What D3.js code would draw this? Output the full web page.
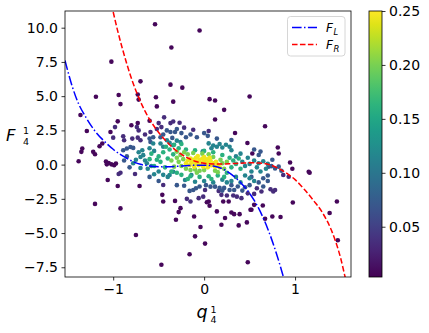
<!DOCTYPE html>
<html>
<head>
<meta charset="utf-8">
<script src="https://cdn.jsdelivr.net/npm/d3@7"></script>
<style>
  body { margin: 0; background: #fff; }
  svg text { font-family: "DejaVu Sans", sans-serif; fill: #000; }
</style>
</head>
<body>
<svg id="chart" width="429" height="333"></svg>
<script>
// axis ticks
var xTicks = [-1, 0, 1];
var yTicks = [-7.5, -5, -2.5, 0, 2.5, 5, 7.5, 10];
var cTicks = [0.05, 0.10, 0.15, 0.20, 0.25];

// curves, [q, F]
var fLeft = [[-1.53, 7.6], [-1.45, 5.7], [-1.4, 4.75], [-1.3, 3.45], [-1.2, 2.45], [-1.1, 1.72],
  [-1.0, 1.12], [-0.9, 0.65], [-0.8, 0.28], [-0.7, 0.02], [-0.6, -0.1], [-0.5, -0.15], [-0.4, -0.15],
  [-0.3, -0.12], [-0.2, -0.08], [-0.1, -0.05], [0.0, -0.05], [0.1, -0.1], [0.2, -0.3], [0.3, -0.72],
  [0.4, -1.3], [0.5, -2.1], [0.6, -3.2], [0.7, -4.7], [0.8, -6.6], [0.88, -8.4]];
var fRight = [[-1.0, 11.15], [-0.95, 9.75], [-0.9, 8.5], [-0.85, 7.35], [-0.8, 6.3], [-0.75, 5.4],
  [-0.7, 4.6], [-0.65, 3.9], [-0.6, 3.3], [-0.55, 2.8], [-0.5, 2.35], [-0.45, 1.95], [-0.4, 1.6],
  [-0.34, 1.2], [-0.26, 0.8], [-0.18, 0.48], [-0.1, 0.25], [0.0, 0.1], [0.1, 0.05], [0.2, 0.05],
  [0.3, 0.07], [0.4, 0.1], [0.5, 0.13], [0.6, 0.12], [0.7, 0.03], [0.8, -0.22], [0.9, -0.6], [1.0, -1.1],
  [1.1, -1.8], [1.2, -2.6], [1.3, -3.5], [1.4, -4.8], [1.45, -5.7], [1.5, -6.8], [1.55, -8.2], [1.58, -9.0]];

// scatter points [q, F], grouped by colour
var ptsOuter = [[-0.54, 10.25], [-0.05, 9.8], [-0.36, 8.55], [-1.02, 7.52], [-0.70, 6.08], [-0.37, 5.84],
  [-0.24, 5.62], [-1.19, 4.96], [-0.94, 5.08], [-0.73, 5.12], [-0.72, 4.75], [-0.53, 4.92], [-0.92, 4.42],
  [-0.34, 4.6], [-0.52, 4.25], [0.06, 4.78], [0.12, 4.68], [0.5, 4.97], [0.22, 4.0], [0.12, 3.3], [0.67, 2.8],
  [-1.36, 3.62], [-1.29, 2.45], [-0.95, 3.16], [-1.38, 0.25], [-1.06, -1.12], [-0.95, -1.56], [-0.71, -1.56],
  [-1.2, -2.87], [-0.92, -3.2], [-0.46, -2.21], [-0.45, -2.7], [-0.32, -2.65], [-0.26, -3.18], [-0.28, -3.47],
  [-0.31, -4.03], [-0.75, -5.14], [-0.47, -7.32], [-0.16, -6.55], [-0.04, -4.56], [-0.10, -5.24], [0.01, -5.77],
  [-0.11, -3.79], [0.14, -3.42], [0.19, -4.39], [0.23, -3.9], [0.38, -4.44], [0.47, -4.22], [0.51, -3.3],
  [0.55, -2.94], [0.645, -2.99], [0.67, -3.96], [0.75, -3.79], [0.84, -3.83], [0.975, -2.77], [1.46, -2.7],
  [1.38, -3.54], [1.47, -5.53], [0.48, -7.13], [1.15, -0.52], [1.16, -0.6], [0.81, 1.25], [0.82, 0.81],
  [0.945, 0.15], [0.97, -0.3], [0.34, 2.31], [0.476, 1.58], [-0.80, 2.87], [-0.73, 3.03], [-0.60, 3.2],
  [-1.34, 1.18], [-1.35, 0.93], [-1.03, 2.38], [-1.22, 0.93], [-1.2, 0.76], [-1.15, 1.34], [-1.12, 1.54],
  [-1.08, 0.22], [-1.05, 0.12], [-1.02, 0.02], [-1.07, 0.02], [-0.99, -0.04], [-0.97, 0.08],
  [0.05, -2.7], [0.06, -3.01], [0.03, -2.75], [0.30, -3.5], [0.33, -3.62], [0.39, -3.62], [0.21, -2.7],
  [0.27, -2.7], [0.52, -3.3], [0.53, 0.81]];
var ptsDark = [[-0.89, 2.07], [-0.88, 1.78], [-1.0, 1.97], [-0.74, 2.74], [-0.72, 2.5], [-0.50, 3.03],
  [-0.47, 2.74], [-0.37, 3.03], [-0.27, 3.06], [-0.59, 2.38], [-0.44, 3.45], [-0.34, 3.15], [-0.76, -0.69],
  [-0.94, -0.69], [-0.92, -0.6], [-0.45, -1.49], [-0.19, -2.5], [-0.15, -2.7], [-0.01, -2.34], [0.01, -1.85],
  [-0.06, -2.45], [0.25, -2.26], [0.32, -2.26], [0.36, -2.34], [0.41, -2.45], [0.19, -2.21], [0.16, -1.92],
  [0.73, -1.8], [0.76, -1.97], [0.87, -0.76], [0.93, -0.89], [0.55, -2.14], [0.58, -1.73], [0.63, -1.97],
  [0.78, -1.85], [-0.79, 1.9], [-0.73, 1.97], [-0.70, 1.78], [-0.98, 2.74], [-0.52, 2.6], [-0.22, 2.7],
  [-0.12, 2.55], [-0.65, 2.2], [0.48, -2.1], [0.05, 2.45]];
var ptsBlue = [[-0.89, 1.05], [-0.85, 1.18], [-0.81, 1.29], [-0.78, 1.22], [-0.59, 1.65], [-0.56, 2.0],
  [-0.41, 2.5], [-0.37, 2.38], [-0.32, 2.38], [-0.48, 2.0], [-0.2, 2.0], [-0.15, 2.2], [0.14, 1.9], [0.04, 2.1],
  [-0.16, -1.92], [-0.12, -1.85], [-0.09, -1.73], [0.07, -1.61], [0.12, -1.61], [0.17, -1.7], [0.22, -1.7],
  [0.28, -1.85], [0.33, -1.85], [0.37, -1.6], [0.45, -1.65], [0.6, -1.3], [0.65, -1.0], [0.7, -0.8],
  [0.71, -0.16], [0.74, -0.11], [0.78, -0.28], [0.82, -0.15], [0.75, 0.35], [0.6, 0.7], [-0.85, 0.6],
  [-0.88, 0.3], [-0.82, -0.2], [-0.6, -0.9], [-0.5, -1.2], [-0.3, -1.5], [0.55, 1.1], [0.62, 0.95], [0.3, 1.8],
  [-0.45, 2.2], [-0.3, 2.6], [-0.25, 2.3], [-0.08, 2.0], [0.0, 2.3], [-0.6, 1.9], [-0.35, 1.95],
  [0.2, -1.9], [0.3, -1.5], [0.42, -1.9], [0.5, -1.5], [0.65, -1.6], [0.7, -1.2], [0.02, -1.5],
  [-0.05, -1.6], [0.52, -0.9], [0.85, -0.45], [-0.22, -1.55]];
var ptsTeal = [[-0.72, 0.9], [-0.7, 0.55], [-0.68, 1.05], [-0.67, 0.69], [-0.65, 0.3], [-0.63, 0.1],
  [-0.62, -0.3], [-0.6, 1.2], [-0.58, -0.1], [-0.56, 1.54], [-0.55, 1.0], [-0.5, -0.5], [-0.48, 1.54],
  [-0.45, 1.3], [-0.41, 1.78], [-0.38, 1.6], [-0.34, 1.42], [-0.3, 1.75], [-0.26, 1.65], [-0.45, -0.75],
  [-0.4, -0.9], [-0.7, -0.25], [-0.78, 0.1], [-0.75, 0.35], [-0.55, -0.7], [0.08, 1.2], [0.1, 1.4], [0.14, 1.3],
  [0.17, 1.5], [0.2, 1.25], [0.24, 1.45], [0.28, 1.3], [-0.015, 0.98], [0.05, 1.55], [0.3, 1.05], [0.35, 0.6],
  [0.4, 0.8], [0.42, 0.2], [0.45, -0.1], [0.48, 0.5], [0.5, 0.05], [0.52, -0.5], [0.55, 0.3], [0.58, -0.2],
  [0.6, 0.1], [0.62, -0.5], [0.65, 0.25], [0.68, -0.3], [0.7, 0.05], [0.45, -0.8], [0.5, -1.0], [0.35, -0.9],
  [0.3, -1.2], [0.4, -1.3], [0.55, -1.2], [0.25, -1.3], [0.2, -1.1], [-0.21, -1.12], [-0.14, -0.76],
  [-0.38, -0.76], [-0.34, -0.52], [0.0, -1.2], [0.1, -1.3], [-0.1, -1.25]];
var ptsGreen = [[-0.5, 0.6], [-0.48, 0.2], [-0.45, 0.9], [-0.43, -0.2], [-0.4, 0.45], [-0.38, 1.1],
  [-0.36, -0.5], [-0.34, 0.75], [-0.3, -0.6], [-0.28, 1.2], [-0.25, -0.75], [-0.2, 1.1], [-0.15, -0.85],
  [-0.1, 1.05], [-0.05, -0.9], [0.0, 1.0], [0.05, -0.85], [0.1, 0.9], [0.15, -0.8], [0.2, 0.7], [0.25, -0.6],
  [0.28, 0.5], [0.3, -0.2], [0.32, 0.3], [-0.55, -0.1], [-0.52, 0.35], [-0.42, 1.3], [-0.33, 1.45],
  [-0.25, 1.5], [0.35, 0.05], [0.22, -0.9], [0.38, 0.45], [-0.6, 0.4], [-0.18, -1.05], [0.08, -1.05],
  [-0.58, 0.8], [0.4, -0.3]];
var ptsLime = [[-0.3, 0.5], [-0.28, 0.2], [-0.26, 0.7], [-0.25, -0.1], [-0.23, 0.4], [-0.22, 0.9],
  [-0.2, -0.3], [-0.18, 0.75], [-0.15, -0.4], [-0.12, 0.85], [-0.1, -0.35], [-0.05, -0.45], [0.0, -0.4],
  [0.05, 0.75], [0.1, 0.55], [0.12, -0.45], [0.18, 0.35], [0.2, 0.1], [0.22, -0.3], [-0.33, -0.15],
  [-0.36, 0.3], [-0.02, 0.8], [0.15, -0.55], [0.25, 0.2], [-0.3, 0.95], [-0.08, -0.6]];
var ptsYellow = [[-0.18, 0.3], [-0.15, 0.45], [-0.14, 0.15], [-0.12, 0.35], [-0.1, 0.05], [-0.09, 0.5],
  [-0.08, 0.2], [-0.06, -0.05], [-0.05, 0.35], [-0.04, 0.12], [-0.02, 0.45], [-0.01, -0.15], [0.0, 0.25],
  [0.02, 0.05], [0.03, 0.38], [0.04, -0.2], [0.05, 0.15], [0.07, 0.3], [0.08, -0.05], [0.1, 0.1],
  [0.12, -0.15], [0.13, 0.2], [0.15, 0.0], [-0.2, 0.1], [-0.16, -0.05], [-0.11, -0.15], [0.0, 0.55],
  [0.06, 0.5], [-0.07, 0.62], [0.17, -0.2]];

// colour value of each group
var groups = [
  [0.008, ptsOuter],
  [0.035, ptsDark],
  [0.07, ptsBlue],
  [0.115, ptsTeal],
  [0.16, ptsGreen],
  [0.2, ptsLime],
  [0.245, ptsYellow]
];

var svg = d3.select('#chart');
var pLeft = 65, pRight = 351, pTop = 11, pBottom = 277;

var x = d3.scaleLinear().domain([-1.53, 1.615]).range([pLeft, pRight]);
var y = d3.scaleLinear().domain([-8.21, 11.22]).range([pBottom, pTop]);
var cmin = 0.0034, cmax = 0.25;
var color = d3.scaleSequential(d3.interpolateViridis).domain([cmin, cmax]);

var defs = svg.append('defs');
defs.append('clipPath').attr('id', 'plotclip')
  .append('rect').attr('x', pLeft).attr('y', pTop).attr('width', pRight - pLeft).attr('height', pBottom - pTop);

var minus = function(s) { return s.replace('-', '\u2212'); };

// points
var dots = [];
groups.forEach(function(g) {
  g[1].forEach(function(p) { dots.push({ q: p[0], f: p[1], c: g[0] }); });
});
svg.append('g').attr('clip-path', 'url(#plotclip)')
  .selectAll('circle')
  .data(dots)
  .enter()
  .append('circle')
  .attr('cx', function(d) { return x(d.q); })
  .attr('cy', function(d) { return y(d.f); })
  .attr('r', 2.3)
  .attr('fill', function(d) { return color(d.c); });

// curves
var line = d3.line()
  .x(function(d) { return x(d[0]); })
  .y(function(d) { return y(d[1]); })
  .curve(d3.curveMonotoneX);

var curves = svg.append('g').attr('clip-path', 'url(#plotclip)');
curves.append('path').attr('d', line(fLeft))
  .attr('fill', 'none').attr('stroke', '#0000ff').attr('stroke-width', 1.5)
  .attr('stroke-dasharray', '9.6,2.4,1.5,2.4');
curves.append('path').attr('d', line(fRight))
  .attr('fill', 'none').attr('stroke', '#ff0000').attr('stroke-width', 1.5)
  .attr('stroke-dasharray', '5.55,2.4');

// axes
var xAxis = d3.axisBottom(x).tickValues(xTicks).tickSize(3.5).tickPadding(3.5)
  .tickFormat(function(d) { return minus(d3.format('d')(d)); });
var yAxis = d3.axisLeft(y).tickValues(yTicks).tickSize(3.5).tickPadding(3.5)
  .tickFormat(function(d) { return minus(d3.format('.1f')(d)); });

var gx = svg.append('g').attr('transform', 'translate(0,' + pBottom + ')').call(xAxis);
var gy = svg.append('g').attr('transform', 'translate(' + pLeft + ',0)').call(yAxis);
[gx, gy].forEach(function(g) {
  g.select('.domain').remove();
  g.selectAll('line').attr('stroke', '#000').attr('stroke-width', 0.8);
  g.selectAll('text').attr('font-family', 'DejaVu Sans').attr('font-size', 14).attr('fill', '#000');
});

svg.append('rect').attr('x', pLeft).attr('y', pTop).attr('width', pRight - pLeft).attr('height', pBottom - pTop)
  .attr('fill', 'none').attr('stroke', '#000').attr('stroke-width', 0.8);

// axis labels
var ylab = svg.append('g');
ylab.append('text').attr('x', 6).attr('y', 141).attr('font-size', 16.5).attr('font-style', 'italic').text('F');
ylab.append('text').attr('x', 23).attr('y', 134).attr('font-size', 9.5).text('1');
ylab.append('text').attr('x', 23).attr('y', 144.5).attr('font-size', 9.5).text('4');

var xlab = svg.append('g');
xlab.append('text').attr('x', 196.5).attr('y', 318).attr('font-size', 17.5).attr('font-style', 'italic').text('q');
xlab.append('text').attr('x', 210.5).attr('y', 312.5).attr('font-size', 9.5).text('1');
xlab.append('text').attr('x', 210.5).attr('y', 323).attr('font-size', 9.5).text('4');

// legend
var legendItems = [['L', '#0000ff', '9.6,2.4,1.5,2.4'], ['R', '#ff0000', '5.55,2.4']];
var lg = svg.append('g');
lg.append('rect').attr('x', 287.5).attr('y', 16.5).attr('width', 57.5).attr('height', 39.5).attr('rx', 3)
  .attr('fill', '#fff').attr('fill-opacity', 0.8).attr('stroke', '#cccccc').attr('stroke-width', 0.8);
legendItems.forEach(function(it, i) {
  var ly = 27.5 + i * 17;
  lg.append('line').attr('x1', 292).attr('x2', 317).attr('y1', ly).attr('y2', ly)
    .attr('stroke', it[1]).attr('stroke-width', 1.5).attr('stroke-dasharray', it[2]);
  lg.append('text').attr('x', 326).attr('y', ly + 4.5).attr('font-size', 12).attr('font-style', 'italic').text('F');
  lg.append('text').attr('x', 333.5).attr('y', ly + 7).attr('font-size', 8.5).attr('font-style', 'italic').text(it[0]);
});

// colorbar
var cbx = 369, cbw = 13;
var cy = d3.scaleLinear().domain([cmin, cmax]).range([pBottom, pTop]);
var grad = defs.append('linearGradient').attr('id', 'cbgrad')
  .attr('x1', 0).attr('y1', 1).attr('x2', 0).attr('y2', 0);
d3.range(0, 1.0001, 0.05).forEach(function(t) {
  grad.append('stop').attr('offset', t).attr('stop-color', d3.interpolateViridis(t));
});
svg.append('rect').attr('x', cbx).attr('y', pTop).attr('width', cbw).attr('height', pBottom - pTop)
  .attr('fill', 'url(#cbgrad)').attr('stroke', '#000').attr('stroke-width', 0.8);
var cAxis = d3.axisRight(cy).tickValues(cTicks).tickSize(3.5).tickPadding(3.5).tickFormat(d3.format('.2f'));
var gc = svg.append('g').attr('transform', 'translate(' + (cbx + cbw) + ',0)').call(cAxis);
gc.select('.domain').remove();
gc.selectAll('line').attr('stroke', '#000').attr('stroke-width', 0.8);
gc.selectAll('text').attr('font-family', 'DejaVu Sans').attr('font-size', 14).attr('fill', '#000');
</script>
</body>
</html>
